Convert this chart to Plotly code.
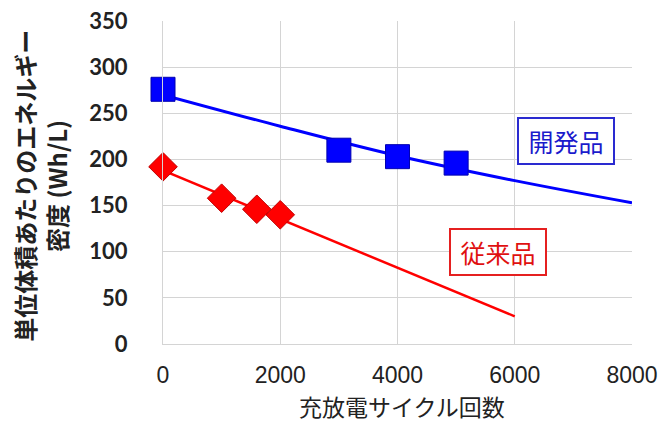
import plotly.graph_objects as go

# Measured energy density per unit volume (Wh/L) vs. charge/discharge cycles
dev_cycles = [0, 3000, 4000, 5000]
dev_density = [276, 210, 203, 196]

conv_cycles = [0, 1000, 1600, 2000]
conv_density = [192, 158, 146, 140]

# Trend lines
dev_trend_x = [0, 2000, 4000, 6000, 8000]
dev_trend_y = [270, 236, 204, 177, 153]
conv_trend_x = [0, 6000]
conv_trend_y = [188, 30]

x_ticks = [0, 2000, 4000, 6000, 8000]
y_ticks = [0, 50, 100, 150, 200, 250, 300, 350]

BLUE = "#0000ff"
RED = "#ff0000"
JP = "Noto Sans CJK JP"

fig = go.Figure()

fig.add_trace(go.Scatter(x=dev_trend_x, y=dev_trend_y, mode="lines",
                         line=dict(color=BLUE, width=3, shape="spline"),
                         hoverinfo="skip", showlegend=False, cliponaxis=False))
fig.add_trace(go.Scatter(x=conv_trend_x, y=conv_trend_y, mode="lines",
                         line=dict(color=RED, width=2.5),
                         hoverinfo="skip", showlegend=False, cliponaxis=False))
fig.add_trace(go.Scatter(x=dev_cycles, y=dev_density, mode="markers", name="開発品",
                         marker=dict(symbol="square", size=24, color=BLUE,
                                     line=dict(color="#0000b0", width=1)),
                         showlegend=False, cliponaxis=False))
fig.add_trace(go.Scatter(x=conv_cycles, y=conv_density, mode="markers", name="従来品",
                         marker=dict(symbol="diamond", size=22, color=RED,
                                     line=dict(color="#c00000", width=1)),
                         showlegend=False, cliponaxis=False))

fig.add_annotation(x=6874, y=220, xref="x", yref="y", text="&nbsp;開発品&nbsp;", showarrow=False,
                   xanchor="center", yanchor="middle",
                   font=dict(family=JP, size=25, color="#1a1acc"),
                   bordercolor="#2a2ad0", borderwidth=2, borderpad=4, bgcolor="white")
fig.add_annotation(x=5714, y=100, xref="x", yref="y", text="&nbsp;従来品&nbsp;", showarrow=False,
                   xanchor="center", yanchor="middle",
                   font=dict(family=JP, size=25, color="#e01010"),
                   bordercolor="#e52020", borderwidth=2, borderpad=4, bgcolor="white")

# Axis titles
fig.add_annotation(x=-0.262, y=0.49, xref="paper", yref="paper",
                   xanchor="center", yanchor="middle",
                   text="<b>単位体積あたりのエネルギー<br>密度 (Wh/L)</b>",
                   textangle=-90, showarrow=False,
                   font=dict(family=JP, size=24, color="#222222"))
fig.add_annotation(x=0.5096, y=-0.2477, xref="paper", yref="paper",
                   xanchor="center", yanchor="bottom", borderpad=0,
                   text="充放電サイクル回数", showarrow=False,
                   font=dict(family=JP, size=23, color="#222222"))

fig.update_layout(
    width=667, height=425,
    margin=dict(l=163, r=35, t=21, b=81),
    paper_bgcolor="white", plot_bgcolor="white",
    xaxis=dict(range=[0, 8000], tickvals=x_ticks, ticktext=[str(v) for v in x_ticks],
               automargin=False,
               showgrid=True, gridcolor="#d4d4d4", gridwidth=1,
               showline=True, linecolor="#d4d4d4", zeroline=False,
               ticks="", ticklabelstandoff=10,
               tickfont=dict(family="Liberation Sans", size=23, color="#222222")),
    yaxis=dict(range=[0, 350], tickvals=y_ticks, ticktext=[str(v) for v in y_ticks],
               automargin=False,
               showgrid=True, gridcolor="#d4d4d4", gridwidth=1,
               showline=True, linecolor="#d4d4d4", zeroline=False,
               ticks="", ticklabelstandoff=30,
               tickfont=dict(family="Lato", size=22, color="#222222", weight="bold")),
)

fig.write_html("out.html")
